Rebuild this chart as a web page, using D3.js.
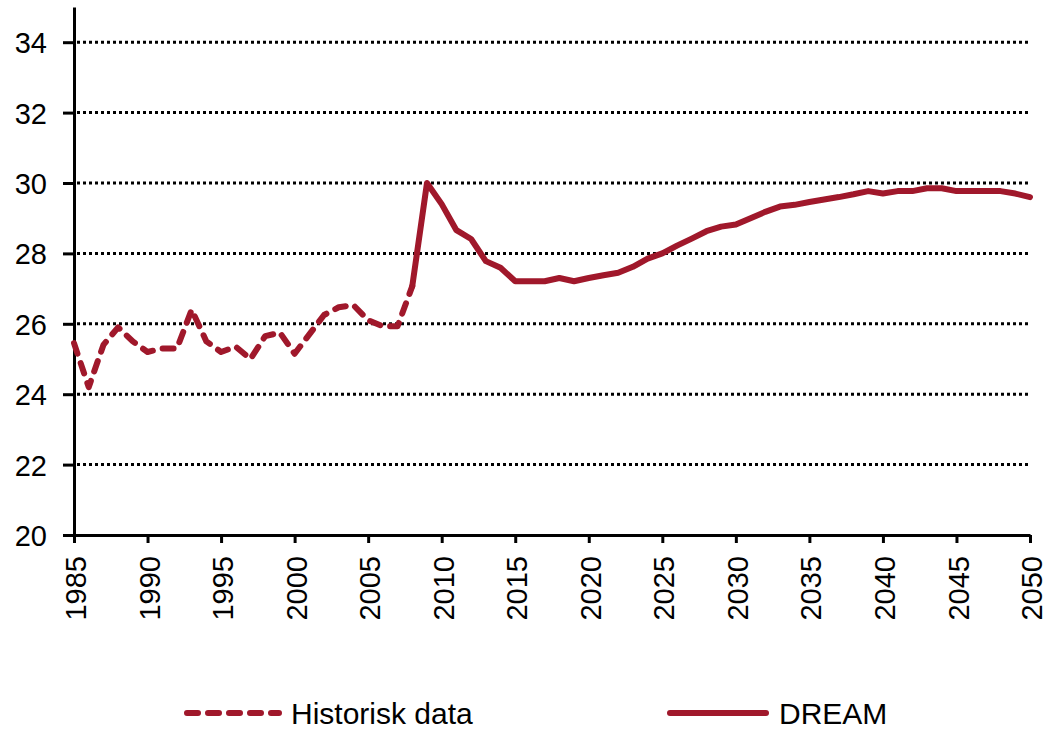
<!DOCTYPE html>
<html>
<head>
<meta charset="utf-8" />
<title></title>
<style>
html, body {
    padding: 0px;
    margin: 0px;
    background: #fff;
}
text {
    font-family: "Liberation Sans", Arial, sans-serif;
    fill: #000;
}
.grid line {
    stroke: #000;
    stroke-width: 3;
    stroke-dasharray: 3 3;
}
</style>
</head>
<body>
<svg id="chart" width="1050" height="731"></svg>

<script src="https://cdnjs.cloudflare.com/ajax/libs/d3/7.8.5/d3.min.js"></script>
<script>
!(function(){
    "use strict"

    // historisk data 1985-2008
    var histYears = d3.range(1985, 2009);
    var histValues = [25.45, 24.2, 25.4, 25.9, 25.5, 25.2, 25.3, 25.3, 26.4, 25.5,
                      25.2, 25.35, 25.0, 25.65, 25.75, 25.15, 25.7, 26.25, 26.47, 26.53,
                      26.1, 25.93, 25.93, 27.07];

    // DREAM 2008-2050
    var dreamYears = d3.range(2008, 2051);
    var dreamValues = [27.07, 30.0, 29.4, 28.66, 28.41, 27.78, 27.59, 27.21, 27.21, 27.21,
                       27.3, 27.21, 27.3, 27.38, 27.45, 27.62, 27.85, 28.0, 28.22, 28.42,
                       28.63, 28.76, 28.82, 29.0, 29.18, 29.33, 29.38, 29.46, 29.53, 29.6,
                       29.68, 29.77, 29.7, 29.77, 29.77, 29.85, 29.85, 29.77, 29.77, 29.77,
                       29.77, 29.7, 29.6];

    var yTicks = [20, 22, 24, 26, 28, 30, 32, 34];
    var xTicks = d3.range(1985, 2051, 5);
    var gridTicks = [22, 24, 26, 28, 30, 32, 34];

    var color = "#a0182b";

    var margin = {left: 74, right: 20, top: 7, bottom: 196};
    var W = 1050, H = 731;

    var svg = d3.select("#chart");

    var x = d3.scaleLinear().domain([1985, 2050]).range([margin.left, W - margin.right]);
    var y = d3.scaleLinear().domain([20, 35]).range([H - margin.bottom, margin.top]);

    // gridlines
    svg.append("g").attr("class", "grid")
        .selectAll("line")
        .data(gridTicks)
        .enter()
        .append("line")
        .attr("x1", x(1985) + 3)
        .attr("x2", x(2050))
        .attr("y1", function(d){ return y(d) })
        .attr("y2", function(d){ return y(d) });

    // y axis
    var yAxis = svg.append("g")
        .attr("transform", "translate(" + margin.left + ",0)")
        .call(d3.axisLeft(y).tickValues(yTicks).tickSize(11).tickPadding(16).tickSizeOuter(0));
    yAxis.select(".domain").attr("stroke-width", 3);
    yAxis.selectAll(".tick line").attr("stroke-width", 3);
    yAxis.selectAll("text")
        .attr("font-size", 29)
        .attr("font-family", null)
        .attr("dy", "0.36em");

    // x axis
    var xAxis = svg.append("g")
        .attr("transform", "translate(0," + y(20) + ")")
        .call(d3.axisBottom(x).tickValues(xTicks).tickFormat(d3.format("d")).tickSize(8).tickSizeOuter(0));
    xAxis.select(".domain").attr("stroke-width", 3);
    xAxis.selectAll(".tick line").attr("stroke-width", 3);
    xAxis.selectAll("text")
        .attr("font-size", 29)
        .attr("font-family", null)
        .attr("transform", "rotate(-90)")
        .attr("text-anchor", "end")
        .attr("x", -21)
        .attr("y", 0)
        .attr("dy", "0.4em");

    var line = d3.line()
        .x(function(d){ return x(d[0]) })
        .y(function(d){ return y(d[1]) });

    var hist = histYears.map(function(yr, i){ return [yr, histValues[i]] });
    var dream = dreamYears.map(function(yr, i){ return [yr, dreamValues[i]] });

    svg.append("path")
        .datum(hist)
        .attr("d", line)
        .attr("fill", "none")
        .attr("stroke", color)
        .attr("stroke-width", 6)
        .attr("stroke-linecap", "round")
        .attr("stroke-linejoin", "round")
        .attr("stroke-dasharray", "11 10");

    svg.append("path")
        .datum(dream)
        .attr("d", line)
        .attr("fill", "none")
        .attr("stroke", color)
        .attr("stroke-width", 6)
        .attr("stroke-linecap", "round")
        .attr("stroke-linejoin", "round");

    // legend
    var legend = svg.append("g");
    legend.append("line")
        .attr("x1", 187).attr("x2", 279)
        .attr("y1", 713).attr("y2", 713)
        .attr("stroke", color)
        .attr("stroke-width", 6)
        .attr("stroke-linecap", "round")
        .attr("stroke-dasharray", "11 10");
    legend.append("text")
        .attr("x", 291).attr("y", 724)
        .attr("font-size", 30)
        .text("Historisk data");
    legend.append("line")
        .attr("x1", 670).attr("x2", 766)
        .attr("y1", 713).attr("y2", 713)
        .attr("stroke", color)
        .attr("stroke-width", 6)
        .attr("stroke-linecap", "round");
    legend.append("text")
        .attr("x", 779).attr("y", 724)
        .attr("font-size", 30)
        .text("DREAM");

}());
</script>
</body>
</html>
